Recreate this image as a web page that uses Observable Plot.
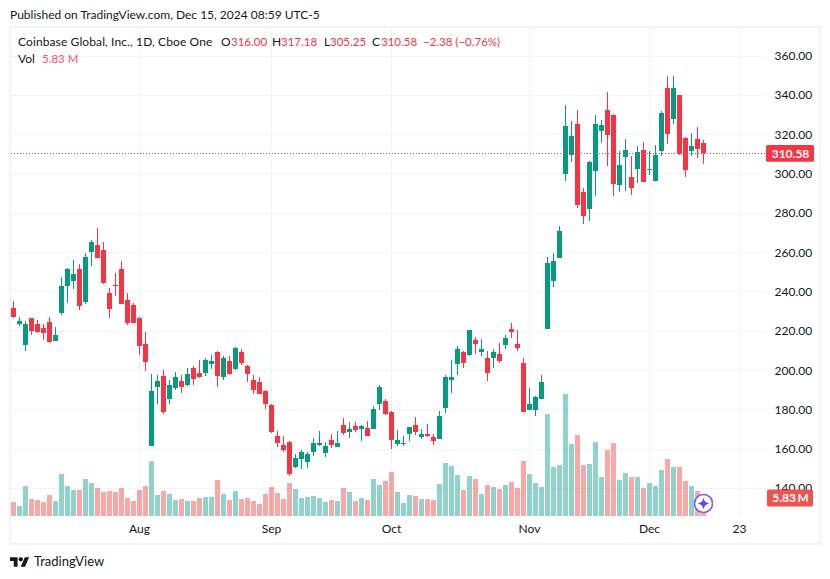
<!DOCTYPE html>
<html>
<head>
<meta charset="utf-8">
<script src="https://cdn.jsdelivr.net/npm/d3@7"></script>
<script src="https://cdn.jsdelivr.net/npm/@observablehq/plot@0.6"></script>
<style>
  body { margin: 0; background: #fff; font-family: Lato, sans-serif; color: #131722; }
  #page { position: relative; width: 830px; height: 579px; overflow: hidden; }
  #chart { position: absolute; left: 0; top: 0; }
  .box { position: absolute; left: 9px; top: 26px; width: 808px; height: 515px; border: 2px solid #f0f3fa; }
  .t { position: absolute; font-size: 12px; line-height: 14px; white-space: nowrap; }
  .red { color: #f23645; font-size: 11.5px; }
  .soft { color: #f7525f; font-size: 11.5px; }
</style>
</head>
<body>
<div id="page">
  <div class="box"></div>
  <div id="chart"></div>
  <div class="t" style="left:10px;top:8px">Published on TradingView.com, Dec 15, 2024 08:59 UTC-5</div>
  <div class="t" style="left:18px;top:35px;letter-spacing:.11px">Coinbase Global, Inc., 1D, Cboe One</div>
  <div class="t" style="left:221px;top:35px">O</div><div class="t red" style="left:231px;top:35px">316.00</div>
  <div class="t" style="left:272px;top:35px">H</div><div class="t red" style="left:281px;top:35px">317.18</div>
  <div class="t" style="left:324px;top:35px">L</div><div class="t red" style="left:330px;top:35px">305.25</div>
  <div class="t" style="left:372px;top:35px">C</div><div class="t red" style="left:381px;top:35px">310.58</div>
  <div class="t red" style="left:423px;top:35px">−2.38 (−0.76%)</div>
  <div class="t" style="left:18px;top:52px">Vol</div><div class="t soft" style="left:42px;top:52px">5.83 M</div>
  <svg style="position:absolute;left:694px;top:494px" width="19" height="19" viewBox="0 0 19 19">
    <circle cx="9.5" cy="9.5" r="9" fill="#fff" stroke="#7b5cf5" stroke-width="1.6"/>
    <path d="M9.5 3.5 Q10.2 8.8 15.5 9.5 Q10.2 10.2 9.5 15.5 Q8.8 10.2 3.5 9.5 Q8.8 8.8 9.5 3.5Z" fill="#6a45f0"/>
  </svg>
  <svg style="position:absolute;left:10.3px;top:554.5px" width="19.4" height="15.1" viewBox="0 0 36 28">
    <path d="M14 22H7V11H0V4h14v18zM28 22h-8l7.5-18h8L28 22z" fill="#131722"/><circle cx="20" cy="8" r="4" fill="#131722"/>
  </svg>
  <div class="t" style="left:34px;top:553px;font-size:13px;line-height:16px">TradingView</div>
</div>
<script>
// daily candles, Jul 2 - Dec 13 2024
const opens = [231.9,223.8,213.1,226.8,223.8,221.7,224.8,215.1,229.4,243.1,245.7,251.8,235.0,260.4,264.0,261.4,239.6,243.6,251.8,236.0,233.4,226.8,213.6,161.7,191.7,197.3,185.6,191.2,194.7,192.7,201.4,198.8,198.8,203.4,209.5,196.8,204.9,200.8,209.5,202.4,195.2,194.2,189.7,182.5,166.8,162.2,163.7,151.0,155.1,153.5,158.6,162.2,158.1,164.7,161.2,172.4,168.8,171.9,170.3,170.8,170.3,183.1,184.6,179.0,162.7,162.7,167.8,172.4,166.3,167.8,166.3,165.3,181.0,195.3,203.4,209.5,208.0,215.6,209.5,206.5,206.5,208.5,213.1,221.2,213.6,203.9,180.0,180.0,185.6,221.2,245.6,257.3,300.1,309.8,325.5,290.9,282.3,301.6,322.0,332.6,330.1,294.5,308.7,298.6,302.6,312.3,302.1,296.5,311.8,343.8,328.1,340.3,318.4,311.8,317.9,316.00]
const highs = [235.5,227.3,225.3,226.8,225.8,223.8,227.3,222.3,247.7,252.3,256.3,254.3,259.9,266.5,272.6,265.5,242.1,249.7,255.8,239.6,234.5,227.3,219.7,198.3,197.8,200.4,195.3,199.3,197.8,201.4,202.4,205.4,206.4,208.0,210.0,207.5,207.5,212.0,211.0,202.9,197.8,196.8,190.2,183.0,169.3,166.8,164.2,157.6,159.6,158.6,165.7,169.3,163.7,167.8,169.3,175.9,173.9,173.9,172.4,174.4,182.0,192.7,185.6,179.5,169.8,166.8,171.4,176.4,170.3,172.9,167.8,179.5,197.8,205.4,212.6,210.0,220.7,217.2,216.1,210.0,211.0,214.1,218.2,224.3,220.7,206.5,191.2,187.1,197.8,257.8,259.9,273.6,335.2,327.1,332.6,293.0,306.7,330.1,327.6,341.8,330.6,311.8,317.9,309.2,314.3,316.4,311.8,314.8,332.1,349.9,349.9,340.3,318.9,321.0,324.0,317.18]
const lows = [226.8,222.8,210.0,218.2,219.2,215.6,214.1,215.1,228.4,234.5,241.6,230.9,234.0,253.3,257.4,244.1,226.8,238.0,233.9,223.3,224.3,208.0,199.9,161.7,183.1,178.0,183.1,190.2,188.6,192.2,192.7,196.3,197.3,200.8,191.7,195.2,197.8,200.3,202.9,194.2,188.1,188.1,180.5,168.3,161.2,158.6,146.4,150.5,150.0,150.5,156.6,161.7,156.1,160.6,161.2,167.3,165.8,168.8,164.2,166.8,170.3,180.0,177.5,160.2,161.7,161.7,164.2,167.3,165.3,166.3,162.2,165.3,178.5,188.7,197.8,201.4,207.5,208.5,207.5,194.8,201.4,203.9,211.0,216.6,210.0,179.0,180.0,177.0,185.6,221.2,242.6,257.3,296.5,306.2,282.8,274.6,276.2,288.9,315.9,304.2,288.9,290.9,291.4,289.4,295.5,296.0,299.6,296.5,309.2,315.3,325.5,309.8,298.6,309.2,308.2,305.25]
const closes = [227.3,225.3,223.8,220.2,219.7,219.2,214.6,218.2,243.1,251.8,249.2,232.9,257.9,265.5,257.4,244.6,231.4,243.1,233.9,224.3,224.3,212.6,204.4,189.7,194.8,179.0,192.7,196.8,191.7,198.3,195.8,196.8,205.4,204.9,197.3,206.4,198.3,211.5,203.9,198.3,190.2,188.1,183.0,168.8,163.2,159.6,147.4,155.6,158.6,157.6,163.2,163.2,161.7,162.2,163.2,168.3,170.3,169.8,171.9,166.8,180.5,191.7,178.0,164.7,164.7,163.2,171.4,168.8,167.8,166.8,164.2,177.0,196.8,196.8,211.0,203.9,220.7,213.6,211.0,198.8,209.5,204.9,216.6,219.7,211.6,179.0,183.1,186.6,194.3,254.8,255.8,271.1,324.5,319.4,284.3,278.7,306.2,325.5,325.0,319.9,295.0,304.7,312.3,293.0,311.3,296.0,302.6,309.8,331.1,320.4,343.8,310.3,302.1,314.3,312.8,310.58]
const volumes = [4.5,3.2,9.7,5.5,5.2,4.5,6.8,4.9,13.6,9.7,8.4,8.4,12.0,10.7,9.1,7.8,8.1,7.8,9.1,5.8,4.9,8.4,9.7,17.8,6.8,8.1,7.1,5.2,5.5,4.9,4.9,5.8,6.2,6.2,11.7,7.1,5.2,8.1,5.5,5.8,4.9,3.9,7.1,9.4,7.5,5.5,10.7,8.7,5.8,6.2,6.5,5.8,4.5,5.2,4.9,9.1,7.8,4.9,5.8,5.2,12.0,10.0,11.3,14.3,7.8,4.2,6.8,6.5,5.5,5.5,5.2,10.4,17.2,16.2,13.3,8.4,13.0,12.0,7.1,10.0,9.4,8.7,10.0,11.0,9.1,17.8,13.6,10.7,9.4,33.0,15.9,16.5,39.5,23.3,26.2,16.5,16.8,24.0,12.6,21.4,23.7,11.7,13.9,12.6,12.6,9.1,10.7,9.7,14.9,18.5,15.9,15.9,11.3,9.7,8.1,5.83]
const monthTicks = [21,43,63,86,106,121]
const monthLabels = ["Aug","Sep","Oct","Nov","Dec","23"]
const priceTicks = d3.range(140,361,20)

const upColor = "#089981", downColor = "#f23645"
const upVol = "#26a69a", downVol = "#ef5350"
const gridColor = "#f2f3f6"
const priceMin = 126.06, priceMax = 374.9
const volK = 1.571  // dollars of axis per million shares, puts the volume bars in the bottom part

const rows = closes.map((c,i) => ({
  i, o: opens[i], h: highs[i], l: lows[i], c, v: volumes[i],
  up: c >= opens[i]
}))
const last = rows[rows.length-1]
const volTop = d => priceMin + d.v*volK
const crisp = "crispEdges"

const chart = Plot.plot({
  width: 830,
  height: 579,
  marginLeft: 11,
  marginRight: 64,
  marginTop: 27,
  marginBottom: 63,
  style: {fontFamily: "Lato, sans-serif", fontSize: "12px", color: "#131722", background: "transparent"},
  x: {domain: [-1/3,125.5], range: [11,766], axis: null},
  y: {domain: [priceMin,priceMax], range: [516,27], axis: null},
  marks: [
    Plot.ruleY(priceTicks, {stroke: gridColor, strokeWidth: 1, dy: -0.7, shapeRendering: crisp}),
    Plot.ruleX(monthTicks, {stroke: gridColor, strokeWidth: 1, shapeRendering: crisp}),
    // volume
    Plot.ruleX(rows, {x: "i", y1: priceMin, y2: volTop, stroke: d => d.up ? upVol : downVol, strokeWidth: 5, strokeOpacity: 0.5, shapeRendering: crisp}),
    // wicks then bodies
    Plot.ruleX(rows, {x: "i", y1: "l", y2: "h", stroke: d => d.up ? upColor : downColor, strokeWidth: 1, shapeRendering: crisp}),
    Plot.ruleX(rows, {x: "i", y1: "o", y2: "c", stroke: d => d.up ? upColor : downColor, strokeWidth: 5, shapeRendering: crisp}),
    Plot.ruleY([last.c], {stroke: downColor, strokeWidth: 1, strokeDasharray: "1 2", dy: -0.7, shapeRendering: crisp}),
    Plot.axisY({anchor: "right", ticks: priceTicks, tickSize: 0, tickPadding: 8, dy: -0.5, tickFormat: d => d.toFixed(2), label: null, fontSize: 12}),
    Plot.axisX({anchor: "bottom", ticks: monthTicks, tickSize: 0, tickPadding: 8, tickFormat: d => monthLabels[monthTicks.indexOf(d)], label: null, fontSize: 12}),
    // last price and last volume badges on the axis
    Plot.rect([last], {x1: 125.5, x2: 133.5, y1: d => d.c-4.3, y2: d => d.c+4.3, fill: downColor, rx: 1.5}),
    Plot.text([last], {x: 129.5, y: "c", text: d => d.c.toFixed(2), fill: "#fff", fontWeight: "bold", fontSize: 12}),
    Plot.rect([last], {x1: 125.67, x2: 133.33, y1: d => volTop(d)-4.3, y2: d => volTop(d)+4.3, fill: "#ef5350", rx: 1.5}),
    Plot.text([last], {x: 129.5, y: volTop, text: d => d.v.toFixed(2)+"\u2009M", fill: "#fff", fontWeight: "bold", fontSize: 12})
  ]
})
document.getElementById("chart").append(chart)
</script>
</body>
</html>
